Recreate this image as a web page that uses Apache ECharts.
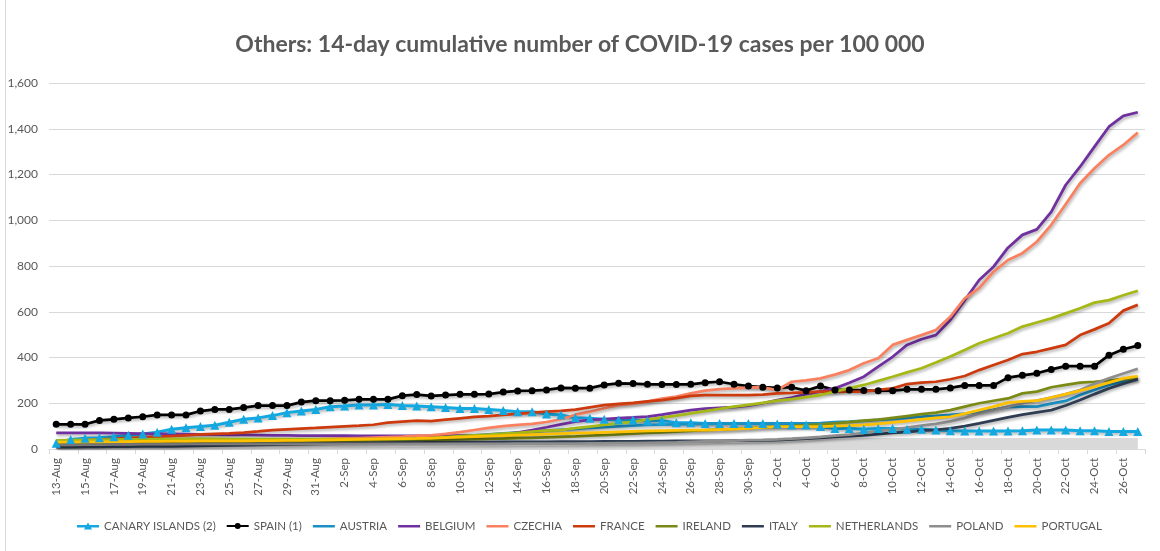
<!DOCTYPE html>
<html>
<head>
<meta charset="utf-8">
<script src="https://cdn.jsdelivr.net/npm/echarts@6/dist/echarts.min.js"></script>
<style>
  html, body { margin: 0; padding: 0; background: #fff; }
  #chart { width: 1160px; height: 551px; }
</style>
</head>
<body>
<div id="chart"></div>
<script>
// 13-Aug .. 27-Oct
const dates = [
  "13-Aug","14-Aug","15-Aug","16-Aug","17-Aug","18-Aug","19-Aug","20-Aug","21-Aug","22-Aug",
  "23-Aug","24-Aug","25-Aug","26-Aug","27-Aug","28-Aug","29-Aug","30-Aug","31-Aug",
  "1-Sep","2-Sep","3-Sep","4-Sep","5-Sep","6-Sep","7-Sep","8-Sep","9-Sep","10-Sep",
  "11-Sep","12-Sep","13-Sep","14-Sep","15-Sep","16-Sep","17-Sep","18-Sep","19-Sep","20-Sep",
  "21-Sep","22-Sep","23-Sep","24-Sep","25-Sep","26-Sep","27-Sep","28-Sep","29-Sep","30-Sep",
  "1-Oct","2-Oct","3-Oct","4-Oct","5-Oct","6-Oct","7-Oct","8-Oct","9-Oct","10-Oct",
  "11-Oct","12-Oct","13-Oct","14-Oct","15-Oct","16-Oct","17-Oct","18-Oct","19-Oct","20-Oct",
  "21-Oct","22-Oct","23-Oct","24-Oct","25-Oct","26-Oct","27-Oct"
];

const canary = [
  25,42,47,49,54,60,66,73,86,93,98,104,117,130,136,146,159,166,173,185,188,192,192,195,190,188,
  185,181,177,177,173,168,163,163,153,149,137,134,130,127,127,124,124,115,115,112,112,112,112,112,109,
  105,105,98,90,90,86,90,90,86,86,83,80,79,79,79,79,80,83,83,83,80,80,76,76,76
];
const spain = [
  108,108,108,125,130,136,141,149,149,149,166,173,173,181,190,190,190,205,211,211,213,217,217,217,233,238,
  232,236,239,239,240,249,254,255,258,267,266,266,280,287,286,283,282,282,283,290,294,283,275,270,267,
  270,255,275,258,258,256,255,255,261,261,261,267,278,278,278,312,322,331,348,362,362,362,410,436,452
];
const austria = [
  18,19,20,21,22,23,24,25,25,26,27,28,29,30,31,32,33,34,35,36,38,40,42,44,46,48,
  50,53,56,60,64,68,72,76,80,84,88,92,96,99,102,105,107,108,109,110,111,111,112,112,112,
  112,112,113,118,120,123,127,131,136,141,145,149,155,163,172,183,185,185,198,210,236,258,280,294,309
];
const belgium = [
  71,71,70,70,69,68,67,66,66,65,64,63,62,62,61,60,60,59,59,58,58,57,57,57,57,57,
  57,57,58,59,60,65,72,83,95,108,120,127,131,135,138,142,150,160,170,176,180,183,190,200,214,
  225,240,252,265,290,316,360,403,455,480,498,564,650,739,797,880,936,960,1037,1154,1234,1322,1409,1456,1472
];
const czechia = [
  20,20,21,22,23,24,25,26,27,28,29,30,32,33,35,36,38,40,42,44,46,48,50,52,54,57,
  60,66,74,83,92,100,105,110,118,130,150,163,178,192,198,207,220,229,243,255,262,265,268,270,258,
  294,300,309,325,345,375,397,455,477,498,520,578,659,703,775,826,856,906,980,1070,1162,1227,1285,1329,1383
];
const france = [
  32,35,38,41,45,48,51,54,56,60,64,66,68,72,77,83,86,89,92,96,99,102,106,115,120,124,
  122,128,134,140,144,149,154,159,163,167,172,182,192,197,202,208,214,222,232,236,235,236,236,238,243,
  245,248,251,251,251,251,258,265,284,290,294,305,319,345,367,389,415,425,440,455,498,523,550,605,630
];
const ireland = [
  18,19,20,21,22,23,24,25,26,27,28,29,30,31,32,33,33,34,35,36,37,38,39,40,41,42,
  40,41,42,43,44,45,47,49,51,53,55,58,61,64,67,70,73,76,79,82,85,88,91,94,97,
  100,104,108,112,118,124,128,136,144,152,159,170,185,200,211,221,243,251,270,280,290,294,300,305,309
];
const italy = [
  8,8,9,9,10,10,11,12,12,13,14,15,16,17,18,19,20,21,22,23,24,25,26,27,28,28,
  29,29,30,30,30,31,31,31,31,32,32,32,33,33,33,34,34,35,35,36,36,37,37,38,39,
  42,45,49,53,56,60,65,70,74,80,84,90,100,112,125,138,150,160,170,190,214,240,265,285,305
];
const netherlands = [
  38,39,40,41,41,42,42,43,43,44,44,44,43,43,43,43,43,43,43,43,43,43,43,43,43,45,
  48,52,56,60,63,67,71,76,80,83,91,98,105,112,119,128,137,146,156,166,176,185,193,202,211,
  218,227,236,251,266,280,298,316,335,353,378,404,433,462,484,506,535,553,571,593,615,640,651,672,692
];
const poland = [
  18,18,19,19,20,20,21,21,21,22,22,22,22,22,22,22,22,22,22,22,22,22,22,22,22,22,
  22,22,22,22,22,22,23,23,23,24,24,25,25,26,26,27,28,29,31,33,35,37,39,40,42,
  45,49,53,58,63,70,78,85,93,102,110,121,135,155,170,185,200,212,225,240,258,285,309,330,351
];
const portugal = [
  30,30,31,31,32,32,33,33,34,34,35,35,36,36,37,37,38,38,39,40,41,42,43,44,45,46,
  48,50,52,54,56,58,61,63,65,67,69,71,73,75,77,79,80,81,82,83,85,87,90,94,98,
  98,98,98,100,102,105,110,116,122,130,136,141,155,170,185,203,208,211,225,240,255,272,290,309,319
];
// unlabelled grey band along the bottom
const band = [
  3,3,3,3,4,4,4,4,5,5,5,5,6,6,6,6,7,7,7,7,8,8,8,8,9,9,
  10,10,11,11,12,12,13,13,14,14,15,16,17,18,19,20,21,22,23,24,25,26,27,28,30,
  33,36,40,44,46,48,48,48,48,48,48,48,48,48,48,48,48,48,48,48,48,48,48,48,48
];

const yTicks = [0, 200, 400, 600, 800, 1000, 1200, 1400, 1600];

const textColor = "#595959";
const gridColor = "#d9d9d9";
const shadow = {
  shadowColor: "rgba(0,0,0,0.3)",
  shadowBlur: 3,
  shadowOffsetX: 1,
  shadowOffsetY: 2,
};

// legend icons: a 22x10 box holding a bar, optionally with a marker
const barIcon = "path://M0,0 M0,4 L22,4 L22,6.5 L0,6.5 Z M22,10";
const triIcon = "path://M0,0 M0,4 L22,4 L22,6.5 L0,6.5 Z M11,1.5 L15,8.5 L7,8.5 Z M22,10";
const dotIcon = "path://M0,0 M0,4 L22,4 L22,6 L0,6 Z M14,5 A3,3 0 1,1 8,5 A3,3 0 1,1 14,5 Z M22,10";

function lineSeries(name, data, color, extra) {
  return Object.assign({
    name: name,
    type: "line",
    data: data,
    symbol: "none",
    smooth: false,
    color: color,
    lineStyle: Object.assign({ width: 2.75, color: color }, shadow),
  }, extra || {});
}

const series = [
  {
    name: "band",
    type: "line",
    data: band,
    symbol: "none",
    lineStyle: { width: 0 },
    areaStyle: { color: "#d9d9d9", opacity: 1 },
    color: "#d9d9d9",
    z: 1,
    silent: true,
  },
  lineSeries("CANARY ISLANDS (2)", canary, "#14a8e0", {
    symbol: "triangle",
    symbolSize: 9,
    showSymbol: true,
    itemStyle: { color: "#14a8e0" },
    lineStyle: Object.assign({ width: 3, color: "#14a8e0" }, shadow),
  }),
  lineSeries("SPAIN (1)", spain, "#000000", {
    symbol: "circle",
    symbolSize: 7,
    showSymbol: true,
    itemStyle: { color: "#000000" },
  }),
  lineSeries("AUSTRIA", austria, "#1b90c3"),
  lineSeries("BELGIUM", belgium, "#7030a0"),
  lineSeries("CZECHIA", czechia, "#fa8160"),
  lineSeries("FRANCE", france, "#cc3a0e"),
  lineSeries("IRELAND", ireland, "#7a8a14"),
  lineSeries("ITALY", italy, "#2f3d52"),
  lineSeries("NETHERLANDS", netherlands, "#a5b815"),
  lineSeries("POLAND", poland, "#8e8e8e"),
  lineSeries("PORTUGAL", portugal, "#ffc000"),
];

const legendData = series.slice(1).map((s) => ({
  name: s.name,
  icon: s.symbol === "triangle" ? triIcon : s.symbol === "circle" ? dotIcon : barIcon,
}));

const chart = echarts.init(document.getElementById("chart"));
chart.setOption({
  animation: false,
  backgroundColor: "#fff",
  textStyle: { fontFamily: "Lato, 'Liberation Sans', sans-serif" },
  title: {
    text: "Others: 14-day cumulative number of COVID-19 cases per 100 000",
    left: "center",
    top: 28,
    textStyle: {
      color: textColor,
      fontSize: 23,
      fontWeight: "bold",
      fontFamily: "Lato, sans-serif",
    },
  },
  graphic: [
    {
      type: "line",
      shape: { x1: 5.5, y1: 0, x2: 5.5, y2: 551 },
      style: { stroke: gridColor, lineWidth: 1 },
    },
  ],
  legend: {
    data: legendData,
    top: 515,
    left: 72,
    itemWidth: 22,
    itemHeight: 10,
    itemGap: 11,
    textStyle: { color: textColor, fontSize: 11.5, fontFamily: "Lato, sans-serif" },
  },
  grid: { left: 49, right: 15, top: 83, bottom: 102, containLabel: false },
  xAxis: {
    type: "category",
    data: dates,
    boundaryGap: true,
    axisLine: { lineStyle: { color: gridColor } },
    axisTick: { show: true, interval: 1, length: 5, lineStyle: { color: gridColor } },
    axisLabel: {
      interval: 1,
      rotate: 90,
      margin: 9,
      color: textColor,
      fontSize: 11.5,
    },
  },
  yAxis: {
    type: "value",
    min: yTicks[0],
    max: yTicks[yTicks.length - 1],
    interval: 200,
    axisLine: { show: false },
    axisTick: { show: false },
    splitLine: { lineStyle: { color: gridColor, width: 1 } },
    axisLabel: {
      color: textColor,
      fontSize: 12,
      margin: 11,
      formatter: (v) => v.toLocaleString("en-US"),
    },
  },
  series: series,
});
</script>
</body>
</html>
